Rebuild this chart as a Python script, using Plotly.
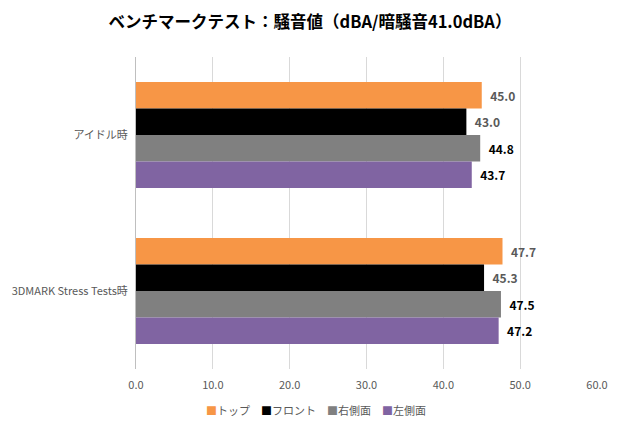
import plotly.graph_objects as go

categories = ["アイドル時", "3DMARK Stress Tests時"]
series_names = ["トップ", "フロント", "右側面", "左側面"]
top_vals = [45.0, 47.7]
front_vals = [43.0, 45.3]
right_vals = [44.8, 47.5]
left_vals = [43.7, 47.2]
x_ticks = [0, 10, 20, 30, 40, 50, 60]

colors = ["#F79646", "#000000", "#808080", "#8064A2"]
label_colors = ["#595959", "#595959", "#000000", "#000000"]
values = [top_vals, front_vals, right_vals, left_vals]

FONT = "Noto Sans CJK JP"

fig = go.Figure()
for name, vals, c, lc in zip(series_names, values, colors, label_colors):
    fig.add_trace(go.Bar(
        y=categories, x=vals, name=name, orientation="h",
        marker=dict(color=c, line=dict(width=0)),
        text=[f"{v:.1f}" for v in vals],
        texttemplate="\u00a0\u00a0%{text}",
        textposition="outside",
        textfont=dict(family=FONT, size=12, color=lc, weight="bold"),
        cliponaxis=False,
        showlegend=False,
    ))

# legend as text entries
legend_text = "\u3000".join(
    f"<span style='color:{c}'>■</span>{n}" for n, c in zip(series_names, colors)
)
fig.add_annotation(
    text=legend_text, xref="paper", yref="paper", x=0.39, y=-0.131,
    xanchor="center", yanchor="middle", showarrow=False,
    font=dict(family=FONT, size=11, color="#595959"),
)

fig.update_layout(
    width=620, height=425,
    margin=dict(l=133, r=17, t=57, b=56),
    paper_bgcolor="white", plot_bgcolor="white",
    barmode="group", bargap=0.32, bargroupgap=0,
    title=dict(
        text="ベンチマークテスト：騒音値（dBA/暗騒音41.0dBA）",
        x=0.5, xanchor="center", y=0.947, yanchor="middle",
        font=dict(family=FONT, size=16.5, color="#000000", weight="bold"),
    ),
    xaxis=dict(
        range=[0, 60], tickvals=x_ticks, tickformat=".1f",
        showgrid=True, gridcolor="#d9d9d9", gridwidth=1,
        zeroline=False, showline=False, ticks="",
        ticklabelstandoff=8,
        tickfont=dict(family=FONT, size=11, color="#595959"),
        fixedrange=True,
    ),
    yaxis=dict(
        autorange="reversed", showgrid=False, zeroline=False,
        showline=True, linecolor="#bfbfbf", linewidth=1, ticks="",
        tickfont=dict(family=FONT, size=11, color="#595959"),
        ticksuffix="  ",
        fixedrange=True,
    ),
    showlegend=False,
)

fig.write_html("out.html")
